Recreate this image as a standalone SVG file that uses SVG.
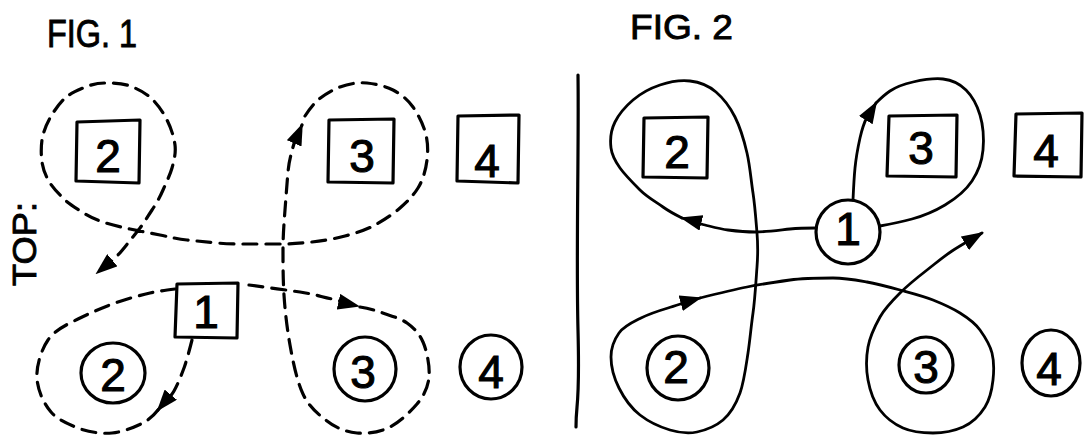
<svg xmlns="http://www.w3.org/2000/svg" width="1084" height="436" viewBox="0 0 1084 436">
<defs>
<style>
.shape{fill:none;stroke:#000;stroke-width:3.2;stroke-linejoin:round;stroke-linecap:round}
.dash{fill:none;stroke:#000;stroke-width:3.2;stroke-dasharray:14 9;stroke-linecap:round;stroke-linejoin:round}
.solid{fill:none;stroke:#000;stroke-width:2.8;stroke-linecap:round;stroke-linejoin:round}
.lbl{font-family:"Liberation Sans",Arial,sans-serif;font-size:46px;text-anchor:middle;fill:#000;stroke:#000;stroke-width:1.1}
.title{font-family:"Liberation Sans",Arial,sans-serif;fill:#000;stroke:#000;stroke-width:0.9}
</style>
<marker id="arr" viewBox="0 0 22 16" markerWidth="22" markerHeight="16" refX="20" refY="8" orient="auto" markerUnits="userSpaceOnUse">
<path d="M0,0 L22,8 L0,16 Z" fill="#000" stroke="none"/>
</marker>
</defs>
<rect width="1084" height="436" fill="#fff"/>

<text class="title" x="47" y="47" font-size="38" textLength="90" lengthAdjust="spacingAndGlyphs">FIG. 1</text>
<text class="title" x="630" y="39" font-size="35" textLength="103" lengthAdjust="spacingAndGlyphs">FIG. 2</text>
<text class="title" transform="translate(36,286) rotate(-90)" font-size="33" textLength="84" lengthAdjust="spacingAndGlyphs">TOP:</text>

<path id="divider" class="shape" d="M578,75 C579,150 576,250 578,330 S576,400 576,427"/>

<g id="fig1-connectors">
<path class="dash" marker-end="url(#arr)" d="M249,285 S286,290 300,292 S322,297 332,299 S349,304 358,306"/>
<path class="dash" marker-end="url(#arr)" d="M360,307 S372,309 380,312 S400,318 407,323 S419,333 423,342 S430,367 429,377 S424,396 417,404 S400,422 390,427 S368,434 357,433 S336,428 327,421 S309,407 303,394 S293,362 290,345 S285,311 284,295 S283,264 283,250 S284,223 285,210 S287,183 288,172 S291,155 293,147 S299,132 302,125"/>
<path class="dash" marker-end="url(#arr)" d="M305,116 S312,105 318,100 S332,90 340,87 S358,82 367,83 S385,86 393,90 S408,100 413,107 S424,126 426,135 S428,151 427,160 S423,180 418,188 S407,202 400,208 S384,220 375,225 S356,233 345,236 S322,241 312,242 S293,244 283,244 S261,244 250,244 S228,244 217,243 S197,241 187,240 S170,237 160,235 S140,231 130,229 S108,224 100,221 S88,216 82,212 S69,204 64,199 S54,189 50,183 S43,169 42,162 S41,147 42,140 S46,125 50,118 S59,104 64,99 S76,91 83,88 S97,83 105,83 S122,83 130,86 S146,93 152,99 S163,112 167,120 S174,137 175,145 S174,161 172,168 S166,183 163,190 S156,204 152,210 S144,223 140,228 S132,238 128,243 S121,252 116,257 S103,268 97,273"/>
<path class="dash" marker-end="url(#arr)" d="M192,340 S187,360 184,368 S178,384 174,391 S163,404 158,410"/>
<path class="dash" d="M158,410 S151,419 143,423 S123,432 112,433 S88,432 78,428 S58,420 51,412 S38,391 37,379 S41,350 48,340 S66,325 78,319 S106,306 118,302 S141,295 150,293 S167,290 175,289"/>
</g>

<g id="fig1-box2"><path class="shape" d="M77,122 L140,120 L139,183 L76,181 Z"/><text class="lbl" x="108" y="172">2</text></g>
<g id="fig1-box3"><path class="shape" d="M329,120 L394,119 L393,183 L328,182 Z"/><text class="lbl" x="362" y="172">3</text></g>
<g id="fig1-box4"><path class="shape" d="M458,116 L519,115 L518,183 L457,181 Z"/><text class="lbl" x="487" y="177">4</text></g>
<g id="fig1-box1"><path class="shape" d="M177,284 L238,283 L237,338 L175,337 Z"/><text class="lbl" x="206" y="328" font-size="40">1</text></g>
<g id="fig1-circle2"><ellipse class="shape" cx="113" cy="373" rx="32" ry="30"/><text class="lbl" x="113" y="391">2</text></g>
<g id="fig1-circle3"><ellipse class="shape" cx="365" cy="369" rx="31" ry="32"/><text class="lbl" x="363" y="388">3</text></g>
<g id="fig1-circle4"><ellipse class="shape" cx="491" cy="367" rx="31" ry="32"/><text class="lbl" x="491" y="388">4</text></g>

<g id="fig2-connectors">
<path class="solid" marker-end="url(#arr)" d="M816,228 S800,228 790,229 S765,232 755,232 S736,231 728,230 S713,227 705,225 S690,220 682,218"/>
<path class="solid" marker-end="url(#arr)" d="M682,218 S670,212 663,207 S647,197 640,190 S625,175 620,168 S612,156 611,148 S611,130 615,122 S626,106 633,100 S651,88 660,85 S681,80 690,81 S709,86 716,92 S730,107 735,117 S744,140 747,153 S751,180 753,193 S756,221 757,233 S758,254 757,267 S755,299 753,313 S750,340 748,353 S744,382 740,393 S730,414 723,420 S706,430 697,432 S680,433 670,430 S649,422 640,415 S624,398 619,388 S611,366 611,357 S614,340 619,333 S633,322 641,318 S658,311 668,308 S689,301 700,298"/>
<path class="solid" marker-end="url(#arr)" d="M700,298 S732,290 747,287 S776,282 790,280 S820,278 833,278 S856,280 867,282 S889,287 900,290 S923,296 933,300 S952,308 960,313 S975,323 980,330 S990,345 992,353 S994,371 993,380 S990,399 985,407 S972,423 963,427 S943,433 933,433 S912,432 903,428 S886,418 880,410 S870,391 868,380 S866,358 868,347 S875,326 880,317 S892,301 900,293 S918,277 927,270 S943,257 952,251 S972,239 982,233"/>
<path class="solid" marker-end="url(#arr)" d="M853,200 S854,178 855,168 S858,147 860,138 S864,123 867,117 S873,108 876,103"/>
<path class="solid" d="M876,103 S884,95 890,91 S904,84 913,82 S934,78 943,79 S960,84 966,90 S977,105 980,115 S984,139 983,150 S978,172 972,181 S955,199 945,205 S923,216 912,219 S891,224 880,226"/>
</g>

<g id="fig2-box2"><path class="shape" d="M644,118 L708,117 L707,178 L643,177 Z"/><text class="lbl" x="677" y="168">2</text></g>
<g id="fig2-box3"><path class="shape" d="M889,116 L957,115 L956,177 L887,176 Z"/><text class="lbl" x="921" y="164">3</text></g>
<g id="fig2-box4"><path class="shape" d="M1016,114 L1082,113 L1081,177 L1014,176 Z"/><text class="lbl" x="1046" y="167">4</text></g>
<g id="fig2-circle1"><ellipse class="shape" cx="848" cy="232" rx="32" ry="32" fill="#fff"/><text class="lbl" x="848" y="245">1</text></g>
<g id="fig2-circle2"><ellipse class="shape" cx="678" cy="368" rx="31" ry="32"/><text class="lbl" x="676" y="383">2</text></g>
<g id="fig2-circle3"><ellipse class="shape" cx="926" cy="365" rx="27" ry="28"/><text class="lbl" x="926" y="383">3</text></g>
<g id="fig2-circle4"><ellipse class="shape" cx="1051" cy="363" rx="29" ry="33"/><text class="lbl" x="1049" y="385">4</text></g>
</svg>
